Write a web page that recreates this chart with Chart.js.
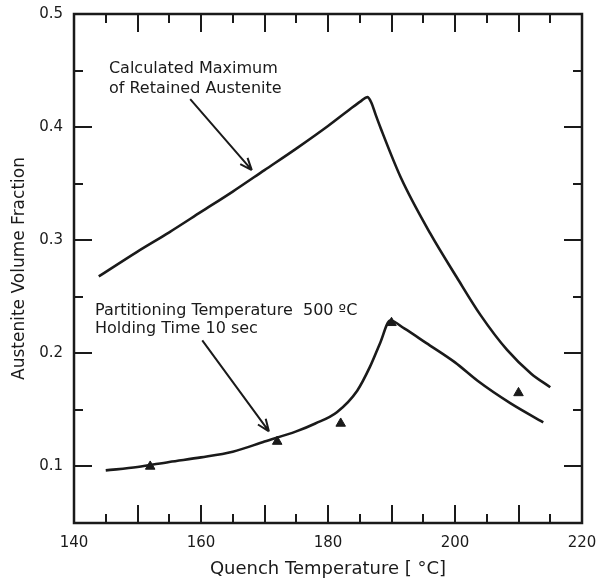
<!DOCTYPE html>
<html>
<head>
<meta charset="utf-8">
<script src="https://cdn.jsdelivr.net/npm/chart.js@4/dist/chart.umd.min.js"></script>
<style>
  html, body { margin: 0; padding: 0; background: #fff; }
  #wrap { width: 599px; height: 581px; }
</style>
</head>
<body>
<div id="wrap"><canvas id="chart" width="599" height="581"></canvas></div>
<script>
// =============================
// DATA
// =============================
// calculated maximum of retained austenite (curve)
const calcT    = [143.9, 150, 155, 160, 165, 170, 175, 180, 183.5, 185.2, 186.2, 186.8, 187.5, 188.3, 191.5, 196.1, 200.3, 204, 208.2, 212, 215];
const calcFrac = [0.268, 0.290, 0.307, 0.325, 0.343, 0.362, 0.381, 0.401, 0.416, 0.423, 0.4265, 0.422, 0.411, 0.399, 0.355, 0.306, 0.267, 0.234, 0.203, 0.182, 0.170];

// partitioning 500 C, holding 10 s (fitted curve)
const partT    = [145, 150, 155, 160, 165, 170, 175, 178, 181.4, 184.6, 186.6, 188.2, 189.8, 192, 195.5, 200, 203.5, 208.7, 213.9];
const partFrac = [0.0965, 0.0995, 0.104, 0.108, 0.113, 0.122, 0.131, 0.138, 0.148, 0.167, 0.188, 0.209, 0.229, 0.222, 0.209, 0.192, 0.176, 0.156, 0.139];

// measured points (triangles)
const measT    = [152, 172, 182, 190, 210];
const measFrac = [0.100, 0.122, 0.138, 0.227, 0.165];

// axes
const xTicks = [140, 160, 180, 200, 220];
const yTicks = [0.1, 0.2, 0.3, 0.4, 0.5];

const FONT = "'DejaVu Sans', 'Liberation Sans', Arial, sans-serif";
const INK = "#1a1a1a";

const toXY = (xs, ys) => xs.map((x, i) => ({ x: x, y: ys[i] }));

// white background
const bgPlugin = {
  id: "bg",
  beforeDraw(chart) {
    const c = chart.ctx;
    c.save();
    c.fillStyle = "#fff";
    c.fillRect(0, 0, chart.width, chart.height);
    c.restore();
  }
};

// frame + inward ticks on all four sides
const framePlugin = {
  id: "frame",
  afterDraw(chart) {
    const c = chart.ctx;
    const a = chart.chartArea;
    const xs = chart.scales.x, ys = chart.scales.y;
    c.save();
    c.strokeStyle = INK;
    c.lineWidth = 2;
    c.beginPath();
    for (let v = 145; v < 220; v += 5) {
      const px = Math.round(xs.getPixelForValue(v));
      const len = v % 10 === 0 ? 18 : 9;
      c.moveTo(px, a.bottom); c.lineTo(px, a.bottom - len);
      c.moveTo(px, a.top); c.lineTo(px, a.top + len);
    }
    for (let k = 2; k < 10; k++) {
      const v = k * 0.05;
      const py = Math.round(ys.getPixelForValue(v));
      const len = k % 2 === 0 ? 18 : 9;
      c.moveTo(a.left, py); c.lineTo(a.left + len, py);
      c.moveTo(a.right, py); c.lineTo(a.right - len, py);
    }
    c.stroke();
    c.lineWidth = 2.5;
    c.strokeRect(a.left, a.top, a.right - a.left, a.bottom - a.top);
    c.restore();
  }
};

// annotation texts and arrows (placed in data units)
const notes = [
  { lines: ["Calculated Maximum", "of Retained Austenite"], at: [145.5, 0.448], step: 20,
    from: [158.3, 0.4248], to: [168.0, 0.362] },
  { lines: ["Partitioning Temperature  500 \u00baC", "Holding Time 10 sec"], at: [143.3, 0.2336], step: 18,
    from: [160.2, 0.2115], to: [170.7, 0.131] }
];

const notePlugin = {
  id: "notes",
  afterDraw(chart) {
    const c = chart.ctx;
    const xs = chart.scales.x, ys = chart.scales.y;
    c.save();
    c.fillStyle = INK;
    c.strokeStyle = INK;
    c.font = "16px " + FONT;
    c.textAlign = "left";
    c.textBaseline = "alphabetic";
    notes.forEach(n => {
      const tx = xs.getPixelForValue(n.at[0]);
      const ty = ys.getPixelForValue(n.at[1]);
      n.lines.forEach((s, i) => c.fillText(s, tx, ty + i * n.step));
      const x1 = xs.getPixelForValue(n.from[0]), y1 = ys.getPixelForValue(n.from[1]);
      const x2 = xs.getPixelForValue(n.to[0]), y2 = ys.getPixelForValue(n.to[1]);
      c.lineWidth = 2;
      c.beginPath();
      c.moveTo(x1, y1); c.lineTo(x2, y2);
      const ang = Math.atan2(y2 - y1, x2 - x1);
      const head = 13, spread = 0.38;
      c.moveTo(x2, y2);
      c.lineTo(x2 - head * Math.cos(ang - spread), y2 - head * Math.sin(ang - spread));
      c.moveTo(x2, y2);
      c.lineTo(x2 - head * Math.cos(ang + spread), y2 - head * Math.sin(ang + spread));
      c.stroke();
    });
    c.restore();
  }
};

new Chart(document.getElementById("chart"), {
  type: "scatter",
  data: {
    datasets: [
      {
        data: toXY(calcT, calcFrac),
        showLine: true,
        borderColor: INK,
        borderWidth: 2.6,
        pointRadius: 0,
        cubicInterpolationMode: "monotone"
      },
      {
        data: toXY(partT, partFrac),
        showLine: true,
        borderColor: INK,
        borderWidth: 2.6,
        pointRadius: 0,
        cubicInterpolationMode: "monotone"
      },
      {
        data: toXY(measT, measFrac),
        showLine: false,
        pointStyle: "triangle",
        pointRadius: 5.5,
        backgroundColor: INK,
        borderColor: INK,
        borderWidth: 1
      }
    ]
  },
  options: {
    responsive: false,
    animation: false,
    layout: { padding: { left: 0, right: 17, top: 14, bottom: 0 } },
    plugins: {
      legend: { display: false },
      tooltip: { enabled: false }
    },
    scales: {
      x: {
        type: "linear",
        min: 140,
        max: 220,
        afterBuildTicks: s => { s.ticks = xTicks.map(v => ({ value: v })); },
        afterFit: s => { s.height = 58; s.paddingLeft = 0; s.paddingRight = 0; },
        grid: { display: false, drawTicks: false },
        border: { display: false },
        ticks: { color: INK, padding: 11, font: { family: FONT, size: 15 } },
        title: {
          display: true,
          text: "Quench Temperature [ \u00b0C]",
          color: INK,
          font: { family: FONT, size: 18 },
          padding: { top: 0, bottom: 1 }
        }
      },
      y: {
        type: "linear",
        min: 0.05,
        max: 0.5,
        afterBuildTicks: s => { s.ticks = yTicks.map(v => ({ value: v })); },
        afterFit: s => { s.width = 74; s.paddingTop = 0; s.paddingBottom = 0; },
        grid: { display: false, drawTicks: false },
        border: { display: false },
        ticks: { color: INK, padding: 11, font: { family: FONT, size: 15 },
                 callback: v => v.toFixed(1) },
        title: {
          display: true,
          text: "Austenite Volume Fraction",
          color: INK,
          font: { family: FONT, size: 17 },
          padding: { top: 9, bottom: 0 }
        }
      }
    }
  },
  plugins: [bgPlugin, framePlugin, notePlugin]
});
</script>
</body>
</html>
